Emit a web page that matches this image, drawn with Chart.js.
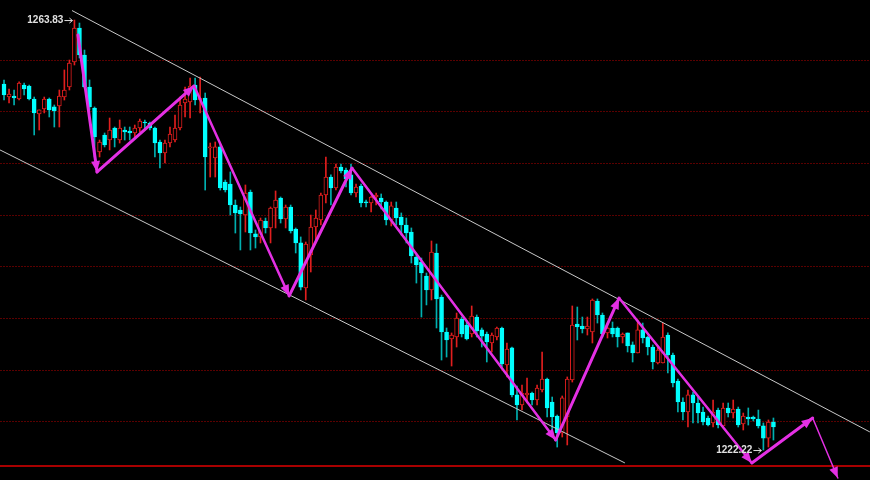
<!DOCTYPE html>
<html><head><meta charset="utf-8">
<script src="https://cdn.jsdelivr.net/npm/chart.js@4.4.1/dist/chart.umd.min.js"></script>
<style>html,body{margin:0;padding:0;background:#000;overflow:hidden}</style>
</head><body>
<canvas id="c" width="870" height="480" style="display:block;width:870px;height:480px"></canvas>
<script>
// ---- candle data (price) ----
const opens = [
1257.64,1256.38,1256.48,1256.19,1257.54,1257.45,1256.19,1254.74,1255.22,1256.19,
1255.42,1255.51,1256.38,1257.35,1259.77,1263.06,1260.45,1257.35,1255.32,1251.06,
1252.71,1252.22,1253.38,1252.22,1253.19,1253.09,1252.90,1253.38,1253.96,1253.87,
1253.38,1252.03,1250.97,1251.93,1252.22,1253.38,1255.80,1255.90,1257.54,1256.09,
1256.29,1251.45,1250.48,1251.55,1248.16,1247.96,1245.93,1245.45,1244.96,1247.19,
1243.13,1242.84,1244.38,1243.71,1245.64,1246.61,1244.58,1245.74,1243.61,1242.26,
1237.90,1241.09,1243.80,1244.48,1246.90,1248.64,1247.58,1249.61,1249.32,1248.84,
1247.09,1247.77,1246.22,1246.13,1246.71,1246.61,1246.22,1244.48,1245.64,1244.77,
1244.00,1243.32,1240.90,1240.42,1239.06,1237.71,1241.29,1237.03,1233.64,1232.97,
1233.16,1234.90,1234.32,1233.45,1235.09,1233.84,1233.45,1232.58,1233.16,1234.03,
1230.45,1232.10,1227.55,1226.58,1227.55,1227.74,1227.06,1228.03,1229.09,1226.87,
1225.51,1223.87,1225.42,1229.00,1234.42,1234.22,1233.93,1233.64,1236.64,1235.29,
1233.55,1234.03,1234.03,1233.16,1233.55,1232.39,1231.61,1233.84,1233.16,1232.19,
1230.64,1230.64,1233.35,1231.42,1228.90,1226.87,1225.90,1227.55,1226.77,1225.90,
1225.32,1224.84,1226.09,1224.55,1226.29,1225.80,1226.19,1224.74,1225.42,1225.42,
1225.22,1224.55,1223.38,1224.93];
const highs = [
1258.03,1257.16,1257.06,1257.84,1257.74,1257.54,1256.38,1255.13,1256.38,1256.29,
1255.61,1257.06,1259.00,1259.96,1263.83,1263.54,1260.93,1258.03,1255.42,1252.22,
1252.90,1254.35,1253.48,1254.16,1253.48,1253.48,1253.67,1254.25,1254.16,1253.96,
1253.48,1252.22,1252.22,1253.48,1254.64,1256.38,1257.35,1258.22,1258.22,1258.32,
1256.77,1251.93,1252.03,1251.74,1248.35,1249.13,1246.42,1245.74,1247.87,1247.38,
1243.51,1244.67,1244.67,1245.74,1247.29,1246.71,1245.93,1245.93,1243.71,1242.84,
1242.35,1244.96,1245.45,1247.09,1250.58,1248.84,1249.90,1249.90,1249.51,1249.90,
1247.96,1247.96,1246.42,1246.80,1247.09,1247.00,1246.32,1246.22,1246.22,1245.16,
1244.67,1243.71,1241.09,1240.80,1239.35,1242.45,1242.16,1237.22,1234.03,1233.55,
1235.48,1235.09,1234.61,1236.16,1235.29,1234.03,1233.64,1233.55,1234.13,1234.13,
1232.58,1232.19,1228.42,1228.51,1229.19,1227.84,1228.51,1231.71,1229.19,1227.35,
1225.61,1227.45,1229.29,1236.16,1236.06,1235.09,1235.09,1236.84,1236.84,1235.48,
1234.13,1234.61,1234.13,1233.55,1233.55,1232.68,1234.80,1234.51,1233.25,1232.39,
1232.19,1234.51,1233.55,1231.61,1229.09,1227.26,1228.03,1227.84,1227.35,1226.38,
1225.51,1227.06,1226.29,1226.77,1226.77,1227.06,1226.38,1225.80,1226.29,1225.51,
1226.09,1224.84,1225.13,1225.32];
const lows = [
1256.09,1255.80,1255.61,1256.09,1256.58,1256.09,1252.71,1253.19,1254.84,1254.45,
1253.48,1253.48,1256.09,1257.06,1259.48,1260.16,1257.25,1255.13,1250.58,1250.58,
1251.55,1251.26,1251.55,1251.93,1252.22,1252.22,1252.51,1253.00,1253.19,1253.19,
1250.58,1249.51,1250.00,1251.55,1252.03,1253.19,1254.45,1254.35,1255.61,1254.84,
1247.38,1248.64,1248.64,1247.38,1247.19,1244.96,1243.22,1241.58,1243.32,1241.58,
1241.77,1242.26,1243.22,1242.26,1243.71,1244.19,1243.71,1243.22,1241.29,1237.71,
1236.74,1239.45,1242.55,1244.00,1246.13,1245.93,1247.38,1249.03,1247.67,1246.90,
1246.71,1245.74,1245.74,1245.26,1245.93,1245.55,1244.00,1243.90,1244.00,1243.03,
1242.26,1240.32,1238.38,1235.09,1236.26,1236.74,1234.03,1230.93,1231.22,1230.35,
1232.19,1233.16,1232.87,1233.16,1233.16,1232.19,1230.74,1231.71,1232.87,1230.26,
1229.29,1227.35,1225.13,1226.09,1226.77,1226.58,1226.58,1227.84,1225.42,1224.16,
1222.51,1223.48,1222.71,1228.80,1232.87,1233.55,1233.35,1232.58,1234.51,1233.16,
1233.06,1233.16,1232.19,1232.58,1231.71,1230.74,1231.61,1232.58,1231.42,1230.06,
1230.55,1230.64,1229.68,1228.32,1225.90,1225.13,1224.45,1224.84,1224.84,1224.64,
1224.55,1224.45,1224.35,1224.45,1225.42,1225.32,1224.45,1224.16,1224.64,1225.03,
1224.35,1222.22,1222.51,1223.19];
const closes = [
1256.58,1256.67,1256.29,1257.74,1257.16,1256.19,1254.84,1255.13,1256.19,1255.13,
1255.03,1256.48,1257.06,1259.67,1263.06,1260.45,1257.35,1255.42,1252.51,1252.03,
1251.74,1253.19,1252.42,1253.38,1253.00,1252.90,1253.38,1254.06,1253.87,1253.38,
1251.93,1250.97,1251.93,1252.80,1253.38,1255.61,1256.19,1257.45,1256.09,1256.29,
1250.58,1251.55,1251.55,1247.58,1247.38,1245.93,1245.16,1245.06,1247.09,1243.22,
1242.84,1244.48,1243.71,1245.64,1246.42,1244.58,1245.74,1243.42,1242.26,1237.99,
1242.16,1243.80,1244.67,1246.90,1248.64,1247.58,1249.61,1249.22,1248.45,1247.09,
1247.67,1246.13,1246.13,1246.71,1246.90,1246.22,1244.48,1245.84,1244.67,1244.00,
1243.22,1241.00,1240.13,1239.35,1237.71,1241.38,1236.84,1233.64,1232.87,1233.35,
1235.00,1233.45,1232.97,1235.19,1233.74,1233.25,1232.68,1233.35,1234.03,1230.55,
1232.00,1227.55,1226.58,1227.74,1227.74,1227.06,1228.22,1229.09,1226.29,1225.42,
1223.87,1227.26,1229.09,1234.32,1234.13,1233.93,1234.22,1236.74,1235.29,1233.45,
1234.03,1233.45,1233.16,1233.45,1232.29,1231.61,1233.84,1233.06,1232.19,1230.74,
1231.90,1233.16,1231.42,1228.71,1226.87,1225.90,1227.55,1226.77,1225.80,1224.93,
1224.64,1225.90,1224.64,1226.29,1225.80,1226.19,1224.64,1225.51,1225.22,1225.22,
1224.55,1223.38,1224.93,1224.45];

// ---- overlay data (bar index, price) ----
const channelUpperX = [13.52, 172.17];
const channelUpperY = [1264.75, 1223.97];
const channelLowerX = [-0.8, 123.46];
const channelLowerY = [1251.26, 1220.97];
const waveX = [14.7, 18.5, 37.8, 56.7, 69.2, 109.7, 122.3, 148.7, 160.8, 165.8];
const waveY = [1262.38, 1249.13, 1257.45, 1237.13, 1249.51, 1223.19, 1236.93, 1220.97, 1225.32, 1219.51];
const gridLevels = [1225, 1230, 1235, 1240, 1245, 1250, 1255, 1260];
const supportLevel = 1220.67;
const markIdx = [14, 151];
const markVal = [1263.83, 1222.22];

// ---- styles ----
const UP = '#e01e1e', DOWN_BODY = '#00ffff', DOWN_WICK = '#00b0b0';
const MAGENTA = 'rgb(228,48,228)';
const waveWidths = [3, 3, 2.5, 3, 2.5, 3, 2.5, 3, 1.5];

const isUp = opens.map((o, i) => closes[i] > o);
const bodyData = opens.map((o, i) => ({x: i, y: [o, closes[i]]}));
const wickData = opens.map((o, i) => ({x: i, y: [lows[i], highs[i]]}));

const datasets = [
  {type: 'bar', data: wickData, grouped: false, barThickness: 1, order: 3,
   backgroundColor: isUp.map(u => u ? UP : DOWN_WICK), borderWidth: 0},
  {type: 'bar', data: bodyData, grouped: false, barThickness: 4, order: 2, minBarLength: 1,
   backgroundColor: isUp.map(u => u ? '#000000' : DOWN_BODY),
   borderColor: isUp.map(u => u ? UP : DOWN_BODY), borderWidth: 1, borderSkipped: false},
  {type: 'line', data: channelUpperX.map((x, i) => ({x, y: channelUpperY[i]})),
   borderColor: '#c8c8c8', borderWidth: 1, pointRadius: 0, order: 1},
  {type: 'line', data: channelLowerX.map((x, i) => ({x, y: channelLowerY[i]})),
   borderColor: '#c8c8c8', borderWidth: 1, pointRadius: 0, order: 1}
];
for (let k = 0; k < waveX.length - 1; k++) {
  datasets.push({type: 'line', data: [{x: waveX[k], y: waveY[k]}, {x: waveX[k+1], y: waveY[k+1]}],
    borderColor: MAGENTA, borderWidth: waveWidths[k], pointRadius: 0, order: 0, borderCapStyle: 'round'});
}

const overlay = {
  id: 'overlay',
  beforeDraw(chart) {
    const c = chart.ctx;
    c.save(); c.fillStyle = '#000'; c.fillRect(0, 0, chart.width, chart.height); c.restore();
  },
  beforeDatasetsDraw(chart) {
    const c = chart.ctx, ys = chart.scales.y;
    c.save();
    c.strokeStyle = '#5a0000'; c.lineWidth = 1; c.setLineDash([2, 1]);
    gridLevels.forEach(v => {
      const y = Math.round(ys.getPixelForValue(v)) + 0.5;
      c.beginPath(); c.moveTo(0, y); c.lineTo(chart.width, y); c.stroke();
    });
    c.setLineDash([]);
    c.strokeStyle = '#a80000'; c.lineWidth = 2;
    const sy = ys.getPixelForValue(supportLevel);
    c.beginPath(); c.moveTo(0, sy); c.lineTo(chart.width, sy); c.stroke();
    c.restore();
  },
  afterDatasetsDraw(chart) {
    const c = chart.ctx, xs = chart.scales.x, ys = chart.scales.y;
    c.save();
    c.fillStyle = MAGENTA;
    for (let k = 0; k < waveX.length - 1; k++) {
      const x0 = xs.getPixelForValue(waveX[k]), y0 = ys.getPixelForValue(waveY[k]);
      const x1 = xs.getPixelForValue(waveX[k+1]), y1 = ys.getPixelForValue(waveY[k+1]);
      const a = Math.atan2(y1 - y0, x1 - x0), L = 11, W = 4.5;
      c.beginPath();
      c.moveTo(x1, y1);
      c.lineTo(x1 - L*Math.cos(a) + W*Math.sin(a), y1 - L*Math.sin(a) - W*Math.cos(a));
      c.lineTo(x1 - L*Math.cos(a) - W*Math.sin(a), y1 - L*Math.sin(a) + W*Math.cos(a));
      c.closePath(); c.fill();
    }
    c.font = 'bold 10px "Liberation Sans", Arial, sans-serif';
    c.textAlign = 'right'; c.textBaseline = 'middle';
    markIdx.forEach((idx, i) => {
      const px = xs.getPixelForValue(idx), py = ys.getPixelForValue(markVal[i]);
      c.fillStyle = '#e0e0e0';
      c.fillText(markVal[i].toFixed(2), px - 11, py + 0.5);
      c.strokeStyle = '#e0e0e0'; c.lineWidth = 1;
      c.beginPath(); c.moveTo(px - 10, py + 0.5); c.lineTo(px - 2, py + 0.5); c.stroke();
      c.beginPath(); c.moveTo(px - 5, py - 2); c.lineTo(px - 2, py + 0.5); c.lineTo(px - 5, py + 3); c.stroke();
    });
    c.restore();
  }
};

new Chart(document.getElementById('c'), {
  type: 'bar',
  data: {datasets},
  options: {
    responsive: false, animation: false, devicePixelRatio: 1,
    layout: {padding: 0},
    plugins: {legend: {display: false}, tooltip: {enabled: false}},
    scales: {
      x: {type: 'linear', min: -0.8, max: 172.2, offset: false, display: false},
      y: {type: 'linear', min: 1219.32, max: 1265.77, display: false}
    }
  },
  plugins: [overlay]
});
</script>
</body></html>
